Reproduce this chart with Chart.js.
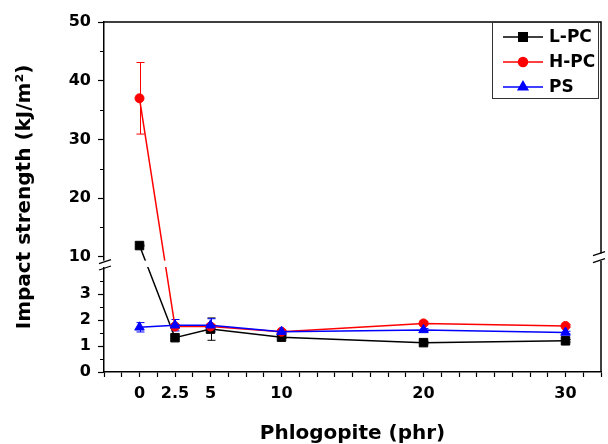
<!DOCTYPE html>
<html>
<head>
<meta charset="utf-8">
<script src="https://cdn.jsdelivr.net/npm/chart.js@4.4.1/dist/chart.umd.min.js"></script>
<style>
  html, body { margin: 0; padding: 0; background: #fff; }
</style>
</head>
<body>
<canvas id="chart" width="608" height="444"></canvas>
<script>
// phlogopite loading (phr)
const xValues = [0, 2.5, 5, 10, 20, 30];
const seriesNames = ["L-PC", "H-PC", "PS"];

const lpc = [11.9, 1.32, 1.65, 1.34, 1.13, 1.2];
const hpc = [37.0, 1.75, 1.75, 1.55, 1.87, 1.77];
const ps  = [1.72, 1.8, 1.8, 1.55, 1.62, 1.52];

const lpcErr = [0.1, 0.05, 0.43, 0.05, 0.05, 0.05];
const hpcErr = [6.1, 0.08, 0.08, 0.05, 0.05, 0.05];
const psErr  = [0.18, 0.22, 0.25, 0.05, 0.05, 0.05];

const xTickLabels = [0, 2.5, 5, 10, 20, 30];
const yTickLabels = [0, 1, 2, 3, 10, 20, 30, 40, 50];
const yMinorTicks = [0.5, 1.5, 2.5, 3.5, 15, 25, 35, 45];

// axis break: lower part 0..4, upper part 9.5..50
const LOW_MAX = 4, UP_MIN = 9.5, UP_MAX = 50;
const LOW_FRAC = 0.297, UP_FRAC = 0.321;

const FONT = "'DejaVu Sans', sans-serif";

class BrokenScale extends Chart.LinearScale {
  buildTicks() {
    return yTickLabels.concat(yMinorTicks)
      .sort((a, b) => a - b)
      .map(v => ({ value: v }));
  }
  getPixelForValue(v) {
    const h = this.bottom - this.top;
    if (v <= LOW_MAX) return this.bottom - (v / LOW_MAX) * LOW_FRAC * h;
    if (v < UP_MIN) return this.bottom - (LOW_FRAC + (v - LOW_MAX) / (UP_MIN - LOW_MAX) * (UP_FRAC - LOW_FRAC)) * h;
    return this.bottom - (UP_FRAC + (v - UP_MIN) / (UP_MAX - UP_MIN) * (1 - UP_FRAC)) * h;
  }
  getValueForPixel(p) {
    const f = (this.bottom - p) / (this.bottom - this.top);
    if (f <= LOW_FRAC) return f / LOW_FRAC * LOW_MAX;
    if (f < UP_FRAC) return LOW_MAX + (f - LOW_FRAC) / (UP_FRAC - LOW_FRAC) * (UP_MIN - LOW_MAX);
    return UP_MIN + (f - UP_FRAC) / (1 - UP_FRAC) * (UP_MAX - UP_MIN);
  }
}
BrokenScale.id = "broken";
BrokenScale.defaults = {};
Chart.register(BrokenScale);

const xTicks = [];
for (let v = -2.5; v <= 32.5 + 1e-9; v += 1.25) xTicks.push(v);

const toPoints = ys => xValues.map((x, i) => ({ x, y: ys[i] }));

const errorBars = {
  id: "errorBars",
  beforeDatasetsDraw(chart) {
    const { ctx, scales: { x, y } } = chart;
    const errs = [lpcErr, hpcErr, psErr];
    ctx.save();
    chart.data.datasets.forEach((ds, i) => {
      ctx.strokeStyle = ds.borderColor;
      ctx.lineWidth = 1;
      ds.data.forEach((p, j) => {
        const e = errs[i][j];
        const px = Math.round(x.getPixelForValue(p.x)) + 0.5;
        const top = y.getPixelForValue(p.y + e);
        const bot = y.getPixelForValue(p.y - e);
        ctx.beginPath();
        ctx.moveTo(px, top); ctx.lineTo(px, bot);
        ctx.moveTo(px - 4, top); ctx.lineTo(px + 4, top);
        ctx.moveTo(px - 4, bot); ctx.lineTo(px + 4, bot);
        ctx.stroke();
      });
    });
    ctx.restore();
  }
};

const frameAndBreak = {
  id: "frameAndBreak",
  afterDatasetsDraw(chart) {
    const { ctx, chartArea: { left, right, top, bottom }, scales: { y } } = chart;
    const yHi = y.getPixelForValue(UP_MIN);
    const yLo = y.getPixelForValue(LOW_MAX);
    ctx.save();
    // gap through everything at the break
    ctx.fillStyle = "#fff";
    ctx.fillRect(left - 1, yHi + 1, right - left + 2, yLo - yHi - 2);
    ctx.strokeStyle = "#000";
    // short minor ticks on the y axis
    ctx.lineWidth = 1.2;
    ctx.beginPath();
    yMinorTicks.forEach(v => {
      const py = Math.round(y.getPixelForValue(v)) + 0.5;
      ctx.moveTo(left - 4, py); ctx.lineTo(left, py);
    });
    ctx.stroke();
    ctx.lineWidth = 1.5;
    // top and right frame
    const rHi = yHi - 6, rLo = yHi + 1;
    ctx.beginPath();
    ctx.moveTo(left, top); ctx.lineTo(right, top); ctx.lineTo(right, rHi);
    ctx.moveTo(right, rLo); ctx.lineTo(right, bottom);
    ctx.stroke();
    ctx.fillRect(right - 2, rHi, 4, rLo - rHi);
    ctx.lineWidth = 1.2;
    ctx.beginPath();
    // left break marks
    [yHi + 2, yLo].forEach(c => {
      ctx.moveTo(left - 5, c + 2); ctx.lineTo(left + 7, c - 2);
    });
    // right break marks
    [rHi, rLo].forEach(c => {
      ctx.moveTo(right - 8, c + 2); ctx.lineTo(right + 4, c - 2);
    });
    ctx.stroke();
    ctx.restore();
  },
  afterDraw(chart) {
    // legend box
    const { ctx } = chart;
    ctx.save();
    ctx.strokeStyle = "#333";
    ctx.lineWidth = 1;
    ctx.strokeRect(492.5, 22.5, 106, 76);
    chart.data.datasets.forEach((ds, i) => {
      const cy = 37 + i * 25;
      ctx.strokeStyle = ds.borderColor;
      ctx.lineWidth = 1.5;
      ctx.beginPath();
      ctx.moveTo(503, cy); ctx.lineTo(543, cy);
      ctx.stroke();
      ctx.fillStyle = ds.backgroundColor;
      Chart.helpers.drawPoint(ctx, {
        pointStyle: ds.pointStyle, radius: ds.pointRadius, rotation: 0, borderWidth: 1
      }, 523, cy);
      ctx.fillStyle = "#000";
      ctx.font = "bold 17px " + FONT;
      ctx.textBaseline = "middle";
      ctx.textAlign = "left";
      ctx.fillText(seriesNames[i], 549, cy + 1);
    });
    ctx.restore();
  }
};

const mkSet = (label, ys, color, style, radius, order) => ({
  label,
  data: toPoints(ys),
  borderColor: color,
  backgroundColor: color,
  borderWidth: 1.5,
  pointStyle: style,
  pointRadius: radius,
  pointBorderWidth: 1,
  tension: 0,
  order
});

new Chart(document.getElementById("chart"), {
  type: "line",
  data: {
    datasets: [
      mkSet(seriesNames[0], lpc, "#000000", "rect", 6, 3),
      mkSet(seriesNames[1], hpc, "#ff0000", "circle", 4.5, 2),
      mkSet(seriesNames[2], ps, "#0000ff", "triangle", 5.5, 1)
    ]
  },
  options: {
    responsive: false,
    animation: false,
    layout: { padding: { top: 22, right: 4, left: 0, bottom: 0 } },
    plugins: { legend: { display: false }, tooltip: { enabled: false } },
    scales: {
      x: {
        type: "linear",
        min: -2.5,
        max: 32.5,
        afterBuildTicks: s => { s.ticks = xTicks.map(v => ({ value: v })); },
        afterFit: s => { s.height = 72; },
        grid: { drawOnChartArea: false, tickLength: 5, tickColor: "#000", tickWidth: 1.2 },
        border: { color: "#000", width: 1.5 },
        ticks: {
          autoSkip: false,
          maxRotation: 0,
          padding: 7,
          color: "#000",
          font: { family: FONT, size: 16, weight: "bold" },
          callback: v => xTickLabels.some(t => Math.abs(t - v) < 1e-6) ? String(v) : ""
        },
        title: {
          display: true,
          text: "Phlogopite (phr)",
          color: "#000",
          font: { family: FONT, size: 20, weight: "bold", lineHeight: 1 },
          padding: { top: 1, bottom: 0 }
        }
      },
      y: {
        type: "broken",
        min: 0,
        max: 50,
        afterFit: s => { s.width = 104; },
        grid: {
          drawOnChartArea: false,
          tickLength: 6,
          tickWidth: 1.2,
          tickColor: c => yTickLabels.includes(c.tick.value) ? "#000" : "rgba(0,0,0,0)"
        },
        border: { color: "#000", width: 1.5 },
        ticks: {
          autoSkip: false,
          padding: 7,
          color: "#000",
          font: { family: FONT, size: 16, weight: "bold" },
          callback: v => yTickLabels.includes(v) ? String(v) : ""
        },
        title: {
          display: true,
          text: "Impact strength (kJ/m²)",
          color: "#000",
          font: { family: FONT, size: 20, weight: "bold", lineHeight: 1.2 },
          padding: { top: 13, bottom: 0 }
        }
      }
    }
  },
  plugins: [errorBars, frameAndBreak]
});
</script>
</body>
</html>
